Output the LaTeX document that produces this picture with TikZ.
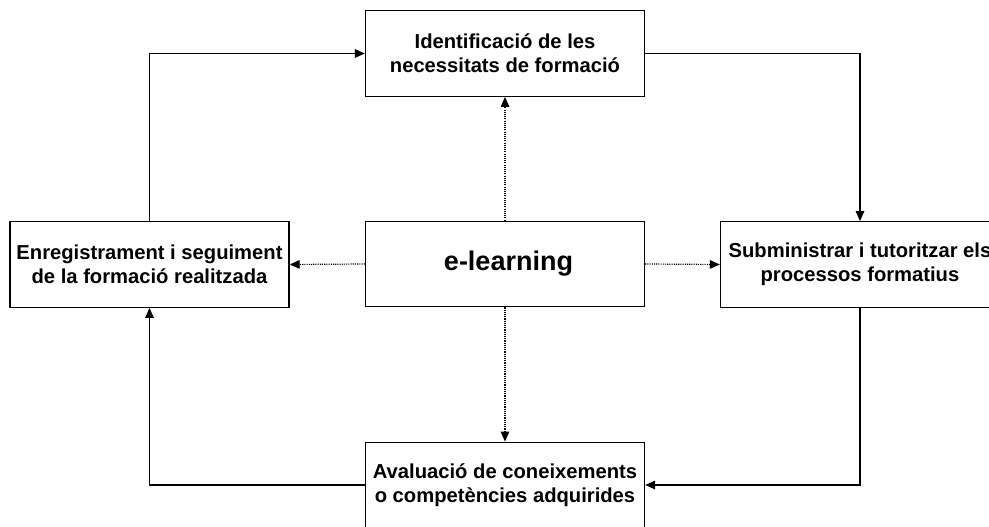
\documentclass[tikz,border=0pt]{standalone}
\usepackage{fontspec}
\setmainfont{Liberation Sans}
\usetikzlibrary{arrows.meta}
\begin{document}
\begin{tikzpicture}[x=1pt,y=-1pt,
  box/.style={draw=black,line width=1.3pt,fill=white,align=center,
    minimum width=279pt,minimum height=85.5pt,inner sep=0pt,
    font=\fontsize{20.2}{24}\selectfont\bfseries},
  flow/.style={line width=1.3pt,-{Triangle[length=10pt,width=8.5pt]}},
  link/.style={line width=1.2pt,dash pattern=on 1.1pt off 1.1pt,
    -{Triangle[length=10pt,width=8.5pt]}}]
\useasboundingbox (0,0) rectangle (989,527);
\clip (0,0) rectangle (989,527);
\node[box] (top) at (505,53.5) {Identificació de les\\necessitats de formació};
\node[box] (left) at (149.5,264.5) {Enregistrament i seguiment\\de la formació realitzada};
\node[box,font=\fontsize{27}{32}\selectfont\bfseries] (mid) at (505,264) {\hspace*{7pt}e-learning};
\node[box] (right) at (860,264.5) {Subministrar i tutoritzar els\\processos formatius};
\node[box] (bottom) at (505,485) {Avaluació de coneixements\\o competències adquirides};
% main cycle
\draw[flow] (left.north) |- (top.west);
\draw[flow] (top.east) -| (right.north);
\draw[flow] (right.south) |- (bottom.east);
\draw[flow] (bottom.west) -| (left.south);
% links from the centre
\draw[link] (mid.north) -- (top.south);
\draw[link] (mid.west) -- (left.east);
\draw[link] (mid.east) -- (right.west);
\draw[link] (mid.south) -- (bottom.north);
\end{tikzpicture}
\end{document}
